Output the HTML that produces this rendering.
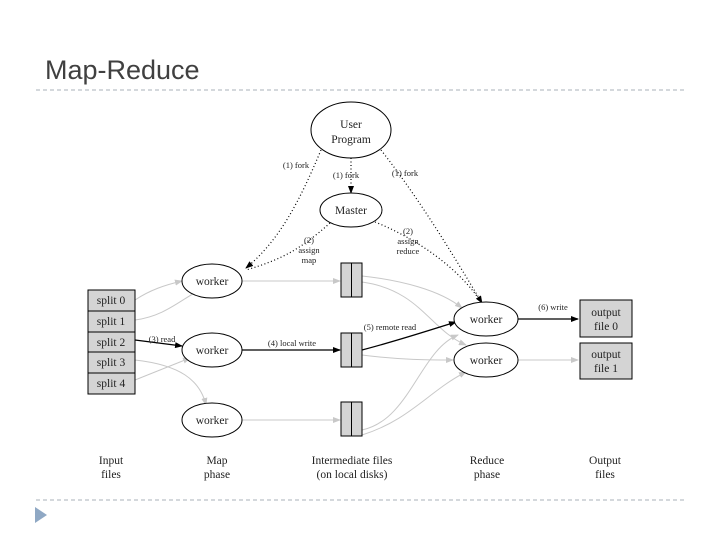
<!DOCTYPE html>
<html><head><meta charset="utf-8"><style>
html,body{margin:0;padding:0;background:#fff;}
</style></head><body>
<svg width="720" height="540" xmlns="http://www.w3.org/2000/svg" font-family="Liberation Serif, serif">
<defs>
<marker id="ab" markerWidth="8" markerHeight="6" refX="7" refY="3" orient="auto" markerUnits="userSpaceOnUse"><path d="M0,0L8,3L0,6z" fill="#000"/></marker>
<marker id="ag" markerWidth="8" markerHeight="6" refX="7" refY="3" orient="auto" markerUnits="userSpaceOnUse"><path d="M0,0L8,3L0,6z" fill="#c8c8c8"/></marker>
</defs>
<text x="45" y="79" font-family="Liberation Sans, sans-serif" font-size="27" fill="#404040">Map-Reduce</text>
<line x1="36" y1="90" x2="685" y2="90" stroke="#a8b0b8" stroke-dasharray="4,3"/>
<line x1="36" y1="500" x2="685" y2="500" stroke="#a8b0b8" stroke-dasharray="4,3"/>
<path d="M35,507L47,515L35,523z" fill="#8fa8c4"/>

<g font-size="10" fill="#222">
<!-- gray lines -->
<g stroke="#c8c8c8" fill="none" stroke-width="1" marker-end="url(#ag)">
<path d="M135,300 C150,290 165,285 182,281"/>
<path d="M135,320 C165,316 180,300 200,290"/>
<path d="M135,380 C160,370 180,362 190,358"/>
<path d="M135,360 C180,365 200,380 206,405"/>
<path d="M242,281 L340,281"/>
<path d="M242,420 L340,420"/>
<path d="M362,276 C400,280 440,290 462,308"/>
<path d="M362,282 C420,290 430,330 466,345"/>
<path d="M362,355 C400,360 430,360 453,360"/>
<path d="M362,430 C410,420 420,350 458,335"/>
<path d="M362,435 C410,420 430,390 466,372"/>
<path d="M518,360 L578,360"/>
</g>
<!-- dotted -->
<g stroke="#000" fill="none" stroke-dasharray="1,2.5" stroke-width="1.2">
<path d="M321,150 C300,200 280,240 246,268" marker-end="url(#ab)"/>
<path d="M351,158 L351,193" marker-end="url(#ab)"/>
<path d="M381,150 C420,200 450,250 482,303" marker-end="url(#ab)"/>
<path d="M330,223 C300,250 280,260 246,270"/>
<path d="M375,222 C420,240 460,270 481,302"/>
</g>
<!-- black -->
<g stroke="#000" fill="none" stroke-width="1.3" marker-end="url(#ab)">
<path d="M135,340 L182,346"/>
<path d="M242,350 L340,350"/>
<path d="M362,350 C400,340 430,330 456,322"/>
<path d="M518,319 L578,319"/>
</g>
<!-- nodes -->
<g fill="#fff" stroke="#000">
<ellipse cx="351" cy="130" rx="40" ry="28"/>
<ellipse cx="351" cy="210" rx="31" ry="17"/>
<ellipse cx="212" cy="281" rx="30" ry="17"/>
<ellipse cx="212" cy="350" rx="30" ry="17"/>
<ellipse cx="212" cy="420" rx="30" ry="17"/>
<ellipse cx="486" cy="319" rx="32" ry="17"/>
<ellipse cx="486" cy="360" rx="32" ry="17"/>
</g>
<g fill="#d4d4d4" stroke="#000">
<rect x="88" y="290" width="47" height="21"/>
<rect x="88" y="311" width="47" height="21"/>
<rect x="88" y="332" width="47" height="20"/>
<rect x="88" y="352" width="47" height="21"/>
<rect x="88" y="373" width="47" height="21"/>
<rect x="341" y="263" width="21" height="34"/>
<rect x="341" y="333" width="21" height="34"/>
<rect x="341" y="402" width="21" height="34"/>
<rect x="580" y="300" width="52" height="37"/>
<rect x="580" y="343" width="52" height="36"/>
<line x1="351.5" y1="263" x2="351.5" y2="297"/>
<line x1="351.5" y1="333" x2="351.5" y2="367"/>
<line x1="351.5" y1="402" x2="351.5" y2="436"/>
</g>
<g font-size="11.5" text-anchor="middle">
<text x="351" y="128">User</text><text x="351" y="143">Program</text>
<text x="351" y="214">Master</text>
<text x="212" y="285">worker</text><text x="212" y="354">worker</text><text x="212" y="424">worker</text>
<text x="486" y="323">worker</text><text x="486" y="364">worker</text>
<text x="111" y="304">split 0</text><text x="111" y="325">split 1</text><text x="111" y="346">split 2</text><text x="111" y="366">split 3</text><text x="111" y="387">split 4</text>
<text x="606" y="316">output</text><text x="606" y="330">file 0</text>
<text x="606" y="358">output</text><text x="606" y="372">file 1</text>
<text x="111" y="464">Input</text><text x="111" y="478">files</text>
<text x="217" y="464">Map</text><text x="217" y="478">phase</text>
<text x="352" y="464">Intermediate files</text><text x="352" y="478">(on local disks)</text>
<text x="487" y="464">Reduce</text><text x="487" y="478">phase</text>
<text x="605" y="464">Output</text><text x="605" y="478">files</text>
</g>
<g font-size="8.5" text-anchor="middle">
<text x="296" y="168">(1) fork</text>
<text x="346" y="178">(1) fork</text>
<text x="405" y="176">(1) fork</text>
<text x="309" y="243">(2)</text><text x="309" y="253">assign</text><text x="309" y="263">map</text>
<text x="408" y="234">(2)</text><text x="408" y="244">assign</text><text x="408" y="254">reduce</text>
<text x="162" y="342">(3) read</text>
<text x="292" y="346">(4) local write</text>
<text x="390" y="330">(5) remote read</text>
<text x="553" y="310">(6) write</text>
</g>
</g>
</svg>
</body></html>
